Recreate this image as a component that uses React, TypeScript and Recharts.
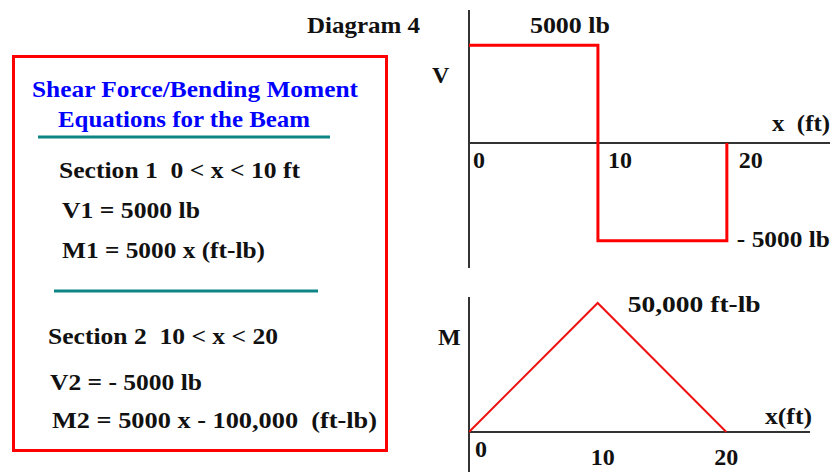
import { Line, LineChart, ReferenceDot, ReferenceLine, XAxis, YAxis } from 'recharts'

// shear diagram: V(x), step drawn with stepAfter
const shearX = [0, 10, 20, 20]
const shearV = [5000, -5000, -5000, 0]

// bending moment diagram: M(x)
const momentX = [0, 10, 20]
const momentM = [0, 50000, 0]

const xTicks = [0, 10, 20]
const tickLabels = ['0', '10', '20']

const shearTop = { x: 10, v: 5000, text: '5000 lb' }
const shearBottom = { x: 20, v: -5000, text: '- 5000 lb' }
const momentPeak = { x: 10, m: 50000, text: '50,000 ft-lb' }

const titleLines = ['Shear Force/Bending Moment', 'Equations for the Beam']
const section1Lines = ['Section 1  0 < x < 10 ft', 'V1 = 5000 lb', 'M1 = 5000 x (ft-lb)']
const section2Lines = ['Section 2  10 < x < 20', 'V2 = - 5000 lb', 'M2 = 5000 x - 100,000  (ft-lb)']

const FONT = "'Liberation Serif', 'Times New Roman', serif"
const AXIS = '#333'
const RED = '#ff0000'
const TEAL = '#0e8585'

const shearData = shearX.map((x, i) => ({ x, v: shearV[i] }))
const momentData = momentX.map((x, i) => ({ x, m: momentM[i] }))

const txt = { fontFamily: FONT, fontWeight: 700, fontSize: 24, fill: '#111', whiteSpace: 'pre' } as const

// label offsets (px) from the scaled point
const shearTickOffset = [4, 10, 12]
const momentTickOffset = [
  { dx: 6, dy: 25, anchor: 'start' },
  { dx: 5, dy: 33, anchor: 'middle' },
  { dx: 0, dy: 33, anchor: 'middle' },
]

// the original uses a wide bitmap Times, so stretch text to its measured width
function T({ x, y, w, children, fill }: { x: number; y: number; w?: number; children: string; fill?: string }) {
  return (
    <text
      x={x}
      y={y}
      textLength={w}
      lengthAdjust={w ? 'spacingAndGlyphs' : undefined}
      style={fill ? { ...txt, fill } : txt}
    >
      {children}
    </text>
  )
}

function textAt(label: string, dx: number, dy: number, w?: number, anchor = 'start') {
  return (p: any) => (
    <text
      x={p.cx + dx}
      y={p.cy + dy}
      textAnchor={anchor}
      textLength={w}
      lengthAdjust={w ? 'spacingAndGlyphs' : undefined}
      style={txt}
    >
      {label}
    </text>
  )
}

function LeftPanel() {
  const titlePos = [
    { x: 32, y: 97, w: 326 },
    { x: 58, y: 127, w: 252 },
  ]
  const s1Pos = [
    { x: 59, y: 178, w: 241 },
    { x: 62, y: 218, w: 138 },
    { x: 62, y: 258, w: 203 },
  ]
  const s2Pos = [
    { x: 48, y: 344, w: 230 },
    { x: 50, y: 390, w: 152 },
    { x: 52, y: 428, w: 325 },
  ]
  return (
    <svg width={834} height={472} style={{ position: 'absolute', left: 0, top: 0 }}>
      <rect x={13.5} y={56.5} width={373} height={394} fill="none" stroke={RED} strokeWidth={3} />
      {titleLines.map((t, i) => (
        <T key={t} {...titlePos[i]} fill="#0000ff">
          {t}
        </T>
      ))}
      <line x1={38} x2={330} y1={137} y2={137} stroke={TEAL} strokeWidth={3} />
      {section1Lines.map((t, i) => (
        <T key={t} {...s1Pos[i]}>
          {t}
        </T>
      ))}
      <line x1={54} x2={318} y1={291} y2={291} stroke={TEAL} strokeWidth={3} />
      {section2Lines.map((t, i) => (
        <T key={t} {...s2Pos[i]}>
          {t}
        </T>
      ))}
      <T x={307} y={33} w={113}>Diagram 4</T>
      <T x={432} y={83}>V</T>
      <T x={772} y={131} w={58}>{'x  (ft)'}</T>
      <T x={438} y={345}>M</T>
      <T x={765} y={424} w={47}>x(ft)</T>
    </svg>
  )
}

export default function App() {
  return (
    <div style={{ position: 'absolute', left: 0, top: 0, width: 834, height: 472, overflow: 'hidden', background: '#fff' }}>
      <LeftPanel />
      <div style={{ position: 'absolute', left: 464, top: 5 }}>
        <LineChart width={371} height={268} data={shearData} margin={{ top: 5, right: 5, bottom: 5, left: 5 }}>
          <XAxis dataKey="x" type="number" domain={[0, 28]} allowDataOverflow hide />
          <YAxis type="number" domain={[-6400, 6800]} allowDataOverflow hide />
          <ReferenceLine y={0} stroke={AXIS} strokeWidth={2} />
          <ReferenceLine x={0} stroke={AXIS} strokeWidth={2} />
          <Line
            dataKey="v"
            type="stepAfter"
            stroke={RED}
            strokeWidth={3}
            dot={false}
            isAnimationActive={false}
          />
          {xTicks.map((t, i) => (
            <ReferenceDot key={t} x={t} y={0} r={0} shape={textAt(tickLabels[i], shearTickOffset[i], 25)} />
          ))}
          <ReferenceDot x={shearTop.x} y={shearTop.v} r={0} shape={textAt(shearTop.text, -68, -12, 80)} />
          <ReferenceDot x={shearBottom.x} y={shearBottom.v} r={0} shape={textAt(shearBottom.text, 10, 6, 93)} />
        </LineChart>
      </div>
      <div style={{ position: 'absolute', left: 464, top: 292 }}>
        <LineChart width={351} height={180} data={momentData} margin={{ top: 5, right: 5, bottom: 0, left: 5 }}>
          <XAxis dataKey="x" type="number" domain={[0, 26.5]} allowDataOverflow hide />
          <YAxis type="number" domain={[-15500, 52300]} allowDataOverflow hide />
          <ReferenceLine y={0} stroke={AXIS} strokeWidth={2} />
          <ReferenceLine x={0} stroke={AXIS} strokeWidth={2} />
          <Line dataKey="m" type="linear" stroke="#ee1111" strokeWidth={2} dot={false} isAnimationActive={false} />
          {xTicks.map((t, i) => (
            <ReferenceDot
              key={t}
              x={t}
              y={0}
              r={0}
              shape={textAt(tickLabels[i], momentTickOffset[i].dx, momentTickOffset[i].dy, undefined, momentTickOffset[i].anchor)}
            />
          ))}
          <ReferenceDot x={momentPeak.x} y={momentPeak.m} r={0} shape={textAt(momentPeak.text, 30, 9, 133)} />
        </LineChart>
      </div>
    </div>
  )
}
